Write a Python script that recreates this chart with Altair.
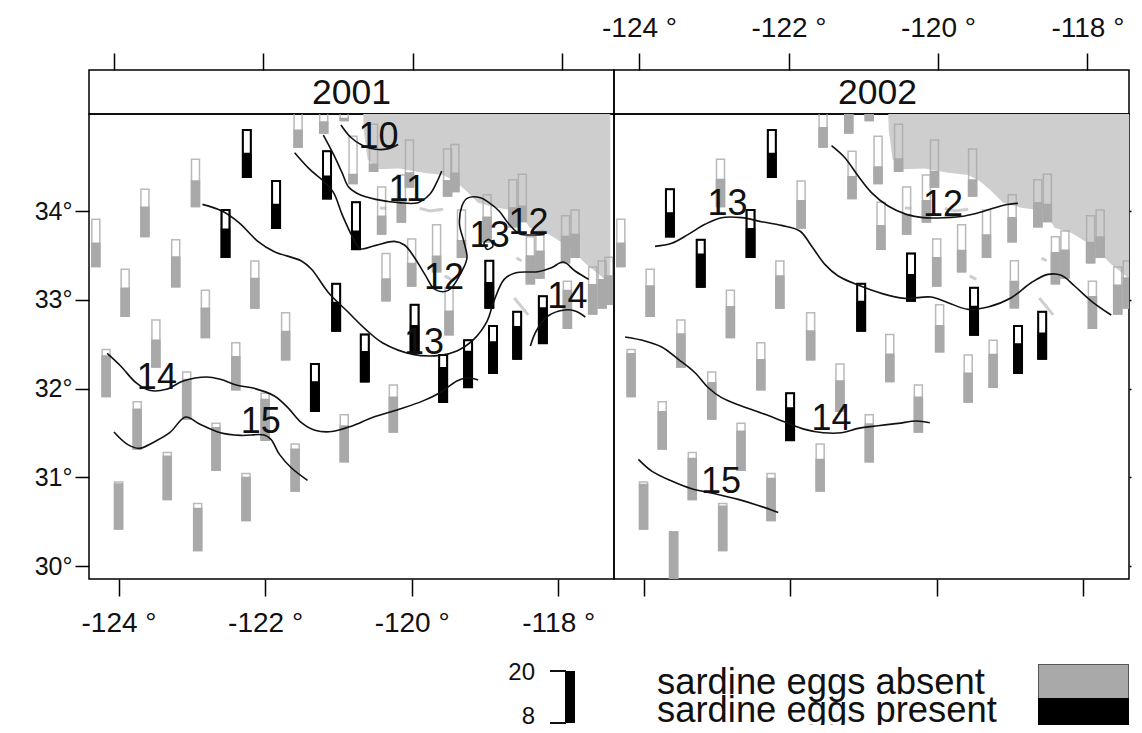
import altair as alt
import pandas as pd

# ---------- stations: longitude, latitude of bar top ----------
station_lon = [-124.31,-123.91,-123.64,-123.22,-122.95,-122.815,-122.54,-122.25,-122.14,-121.85,-121.72,-121.55,
               -121.20,-121.155,-121.03,-120.92,-120.80,-120.76,-120.52,-120.41,-120.35,-120.14,-120.03,-120.0,
               -119.96,-119.66,-119.51,-119.49,-119.41,-119.32,-119.23,-118.97,-118.94,-119.57,-118.89,-118.62,
               -118.56,-118.49,-118.38,-118.25,-118.21,-117.90,-117.875,-117.77,-117.53,-117.40,-117.31,
               -124.17,-123.49,-123.07,-122.40,-123.745,-122.0,-122.67,-123.335,-124.0,-122.26,-122.92,
               -121.59,-120.92,-120.25,-121.32,-120.64,-123.59]
station_top = [33.906,33.343,34.244,33.677,34.582,33.106,34.011,34.913,33.437,34.338,32.854,35.25,
               35.41,34.672,33.181,35.55,34.841,34.10,34.977,34.27,33.52,34.406,34.80,33.685,
               32.945,33.846,34.70,33.136,34.75,34.01,32.543,34.184,33.44,32.378,32.704,34.353,
               32.866,34.413,33.71,33.775,33.04,33.947,33.21,34.01,33.37,33.437,33.48,
               32.44,32.772,32.186,32.516,31.85,31.946,31.61,31.28,30.946,31.044,30.706,
               31.375,31.705,32.04,32.276,32.61,30.383]
# filled share of each bar per year (None = no station that year)
fill_2001 = [.49,.60,.62,.63,.54,.62,.59,.50,.63,.50,.60,.36,
             .23,.47,.60,.04,.19,.38,.15,.38,.46,.47,.30,.48,
             .55,.33,.32,.50,.39,.35,.76,.52,.53,.73,.66,.40,
             .68,.32,.59,.57,.75,.56,.80,.48,.62,.60,.60,
             .86,.57,.84,.70,.84,.87,.90,.92,.96,.91,.89,
             .89,.76,.74,.62,.63,None]
fill_2002 = [.49,.645,.50,.69,.57,.65,.60,.50,.68,.58,.61,.41,
             .45,.46,.62,.30,.35,.50,.26,.41,.55,.45,.33,.60,
             .55,.45,.34,.60,None,.47,.70,.51,.56,.61,.62,.51,
             .54,.36,.66,.59,None,.43,.67,.43,.61,.64,.60,
             .91,.70,.77,.64,.79,.69,.83,.87,.95,.89,.94,
             .67,.80,.74,.64,.58,1.0]
present_2001 = {6,7,9,13,14,17,24,30,32,33,34,36,40,61,62}
present_2002 = {2,3,6,7,14,20,27,34,36,52}
BAR_SPAN = 0.53

# ---------- coast ----------
coast_lon = [-120.66,-120.655,-120.62,-120.60,-120.458,-120.163,-119.845,-119.572,-119.413,-119.253,-119.096,
             -118.846,-118.528,-118.391,-118.164,-117.982,-117.80,-117.619,-117.392,-117.29]
coast_lat = [35.09,34.92,34.70,34.58,34.47,34.48,34.432,34.406,34.338,34.225,34.094,
             34.038,34.0,33.812,33.756,33.662,33.55,33.40,33.25,33.136]
islands = [([-120.435,-120.345],[34.035,34.03]),
           ([-119.89,-119.75,-119.572],[34.03,34.0,34.02]),
           ([-119.55,-119.46],[33.27,33.23]),
           ([-118.57,-118.50],[33.47,33.44]),
           ([-118.60,-118.41],[33.02,32.83])]

# ---------- contours ----------
contours_2001 = [
 ([-120.965,-120.836,-120.675,-120.49,-120.33,-120.185],[34.969,34.834,34.74,34.695,34.70,34.75]),
 ([-121.205,-121.066,-120.95,-120.86,-120.72,-120.49,-120.17,-119.914,-119.753,-119.66,-119.59],
  [34.856,34.638,34.432,34.27,34.188,34.131,34.094,34.094,34.188,34.319,34.451]),
 ([-121.597,-121.39,-121.205,-121.066,-120.95,-120.813,-120.70,-120.49,-120.236,-120.098,-119.96,-119.82,-119.683,
   -119.50,-119.314,-119.245,-119.29,-119.347,-119.314,-119.245,-119.06,-118.945,-118.807,-118.67,-118.53,-118.323,-118.185],
  [34.657,34.469,34.338,34.207,33.962,33.718,33.576,33.613,33.658,33.617,33.474,33.286,33.117,
   33.106,33.324,33.474,33.662,33.85,34.056,34.143,34.15,34.094,34.0,33.85,33.745,33.73,33.737]),
 ([-119.015,-118.945,-118.89,-118.97,-119.015],[33.643,33.68,33.606,33.568,33.643]),
 ([-122.855,-122.588,-122.357,-122.104,-121.873,-121.504,-121.366,-121.135,-120.882,-120.628,-120.4,-119.983,-119.614,
   -119.383,-119.153,-118.97,-118.885,-118.738,-118.577,-118.277,-118.092,-117.93,-117.77,-117.585],
  [34.075,34.0,33.869,33.662,33.542,33.437,33.343,33.08,32.873,32.667,32.516,32.385,32.374,
   32.423,32.554,32.76,32.967,33.23,33.305,33.316,33.361,33.425,33.324,33.23]),
 ([-118.38,-118.30,-118.14,-117.91,-117.77,-117.63],[32.479,32.648,32.817,32.885,32.873,32.806]),
 ([-124.155,-123.971,-123.763,-123.579,-123.349,-123.118,-122.795,-122.611,-122.38,-122.15,-121.873,-121.69,-121.504,
   -121.32,-121.09,-120.813,-120.536,-120.17,-119.845,-119.614,-119.383,-119.245,-119.093],
  [32.396,32.254,32.066,31.98,31.991,32.085,32.13,32.104,32.036,32.002,31.916,31.785,31.616,
   31.53,31.515,31.579,31.673,31.767,31.861,31.953,32.085,32.122,32.096]),
 ([-124.063,-123.879,-123.717,-123.533,-123.302,-123.086,-122.888,-122.611,-122.334,-122.012,-121.92,-121.804,-121.643,-121.421],
  [31.51,31.371,31.326,31.39,31.502,31.679,31.597,31.502,31.472,31.476,31.427,31.258,31.107,30.965]),
]
contours_2002 = [
 ([-121.435,-121.253,-121.072,-120.89,-120.663,-120.413,-120.186,-119.89,-119.618,-119.346,-119.073,-118.891],
  [34.736,34.60,34.394,34.207,34.056,33.962,33.925,33.925,33.944,34.0,34.068,34.086]),
 ([-123.843,-123.616,-123.389,-123.162,-122.935,-122.662,-122.39,-122.117,-121.867,-121.708,-121.526,-121.344,-121.072,
   -120.754,-120.436,-120.072,-119.845,-119.572,-119.30,-118.982,-118.71,-118.482,-118.30,-118.118,-117.891,-117.619],
  [33.602,33.636,33.737,33.85,33.925,33.925,33.88,33.838,33.775,33.606,33.399,33.268,33.166,
   33.072,33.016,33.031,32.967,32.892,32.918,33.023,33.192,33.286,33.275,33.155,32.986,32.828]),
 ([-124.252,-123.98,-123.752,-123.525,-123.298,-123.116,-122.935,-122.662,-122.344,-122.071,-121.80,-121.549,-121.30,
   -121.072,-120.80,-120.527,-120.277,-120.095],
  [32.58,32.535,32.468,32.329,32.178,32.009,31.897,31.803,31.709,31.623,31.54,31.502,31.502,
   31.551,31.581,31.607,31.634,31.615]),
 ([-124.07,-123.889,-123.616,-123.343,-123.025,-122.708,-122.435,-122.162],
  [31.202,31.07,30.958,30.871,30.815,30.751,30.683,30.604]),
]
labels_2001 = [("10",-120.453,34.834),("11",-120.06,34.237),("12",-119.56,33.249),("13",-118.936,33.718),
               ("12",-118.406,33.869),("14",-117.875,33.03),("13",-119.83,32.516),("14",-123.477,32.122),("15",-122.058,31.623)]
labels_2002 = [("13",-122.853,34.075),("12",-119.913,34.068),("14",-121.435,31.653),("15",-122.944,30.95)]

lon_ticks = [-124,-122,-120,-118]
lat_ticks = [30,31,32,33,34]
LAT_DOMAIN = [29.854,35.093]
FONT = "Liberation Sans"
GREY = "#a9a9a9"
LAND = "#cecece"

def stations(fill, present):
    rows = []
    for i,(lo,tp,f) in enumerate(zip(station_lon,station_top,fill)):
        if f is None:
            continue
        bot = tp-BAR_SPAN
        rows.append(dict(lon=lo,top=tp,bot=bot,split=bot+f*BAR_SPAN,status="present" if i in present else "absent"))
    return pd.DataFrame(rows)

def lines(items):
    rows=[]
    for k,(xs,ys) in enumerate(items):
        for s,(a,b) in enumerate(zip(xs,ys)):
            rows.append(dict(id=k,seq=s,lon=a,lat=b))
    return pd.DataFrame(rows)

status_scale = alt.Scale(domain=["absent","present"],range=[GREY,"#000000"])
FRAME = alt.ViewConfig(stroke="black",strokeWidth=1.5)

def panel(fill,present,contours,labels,lon_domain,width,x_axis,y_axis):
    xs = alt.X("lon:Q",scale=alt.Scale(domain=lon_domain,nice=False,zero=False),axis=x_axis)
    ys = alt.Y("lat:Q",scale=alt.Scale(domain=LAT_DOMAIN,nice=False,zero=False),axis=y_axis)
    st = stations(fill,present)
    land = alt.Chart(pd.DataFrame(dict(lon=coast_lon,lat=coast_lat,top=[LAT_DOMAIN[1]]*len(coast_lon)))).mark_area(
        color=LAND,clip=True,interpolate="linear").encode(x=xs,y=ys,y2="top:Q")
    isl = alt.Chart(lines(islands)).mark_line(color=LAND,strokeWidth=3,clip=True).encode(
        x=xs,y=ys,detail="id:N",order="seq:Q")
    yt = alt.Y("top:Q",scale=alt.Scale(domain=LAT_DOMAIN,nice=False,zero=False),axis=y_axis)
    ysp = alt.Y("split:Q",scale=alt.Scale(domain=LAT_DOMAIN,nice=False,zero=False),axis=y_axis)
    outline = alt.Chart(st).mark_bar(size=8,fillOpacity=0,strokeWidth=1.5,clip=True,opacity=0.8).encode(
        x=xs,y=yt,y2="bot:Q",stroke=alt.Stroke("status:N",scale=status_scale,legend=None))
    outline2 = alt.Chart(st[st.status=="present"]).mark_bar(size=8,fillOpacity=0,strokeWidth=2,stroke="black",clip=True).encode(
        x=xs,y=yt,y2="bot:Q")
    filled = alt.Chart(st).mark_bar(size=8,strokeWidth=1.5,clip=True).encode(
        x=xs,y=ysp,y2="bot:Q",
        fill=alt.Fill("status:N",scale=status_scale,legend=None),
        stroke=alt.Stroke("status:N",scale=status_scale,legend=None))
    cont = alt.Chart(lines(contours)).mark_line(color="#111111",strokeWidth=1.6,clip=True,interpolate="catmull-rom").encode(
        x=xs,y=ys,detail="id:N",order="seq:Q")
    lab = alt.Chart(pd.DataFrame(labels,columns=["txt","lon","lat"])).mark_text(
        font=FONT,fontSize=36,color="#111111",align="center",baseline="middle").encode(x=xs,y=ys,text="txt:N")
    return alt.layer(land,isl,outline,outline2,filled,cont,lab).properties(width=width,height=465,view=FRAME)

def strip(year,mid,lon_domain,width,axis):
    d = pd.DataFrame(dict(lon=[mid],txt=[year]))
    return alt.Chart(d).mark_text(font=FONT,fontSize=35.5,color="#111111",align="center",baseline="middle").encode(
        x=alt.X("lon:Q",scale=alt.Scale(domain=lon_domain,nice=False,zero=False),axis=axis),
        y=alt.value(23),text="txt:N").properties(width=width,height=44,view=FRAME)

lon_expr = "datum.value + ' °'"
lat_expr = "datum.value + '°'"
ax_common = dict(title=None,domain=False,grid=False,tickColor="black",tickWidth=1.5,values=lon_ticks,
                 labelFont=FONT,labelFontSize=28,labelColor="#111111",labelExpr=lon_expr,tickSize=17,
                 labelFlush=False,labelOverlap=False,labelBound=False)
ay_common = dict(title=None,domain=False,grid=False,tickColor="black",tickWidth=1.5,values=lat_ticks,
                 labelFont=FONT,labelFontSize=25,labelColor="#111111",labelExpr=lat_expr,labelOverlap=False,labelBound=False)

top_none = alt.Axis(orient="top",labels=False,minExtent=61,maxExtent=61,labelPadding=11,**ax_common)
top_lab = alt.Axis(orient="top",minExtent=61,maxExtent=61,labelPadding=11,**ax_common)
bot_lab = alt.Axis(orient="bottom",minExtent=60,maxExtent=60,labelPadding=13,**ax_common)
bot_none = alt.Axis(orient="bottom",labels=False,minExtent=60,maxExtent=60,labelPadding=13,**ax_common)
left_lab = alt.Axis(orient="left",tickSize=14,labelPadding=3,minExtent=80,maxExtent=80,**ay_common)
right_tk = alt.Axis(orient="right",labels=False,tickSize=2,minExtent=2,maxExtent=2,**ay_common)

W1, W2 = 525, 515
D1 = [-124.335,-117.307]
D2 = [-124.335,-117.444]
MID2 = -120.81

# ---------- key ----------
key_data = alt.Data(values=[{"k":1}])
KY = 578
def key_rect(kx,x1,x2,y1,y2,color):
    return alt.Chart(key_data).mark_rect(color=color,clip=True).encode(
        x=alt.value(x1-kx),x2=alt.value(x2-kx),y=alt.value(y1-KY),y2=alt.value(y2-KY))
def key_text(kx,txt,x,y,size,align):
    return alt.Chart(key_data).mark_text(text=txt,font=FONT,fontSize=size,color="#111111",align=align,baseline="alphabetic",clip=True).encode(
        x=alt.value(x-kx),y=alt.value(y-KY))
NOFRAME = alt.ViewConfig(stroke=None)
KEY_H = 146
key_left = alt.layer(
    key_rect(89,565,575,670,722,"#000000"),
    key_rect(89,550,566,669,671,"#111111"),
    key_rect(89,550,566,721,723,"#111111"),
    key_text(89,"20",535,679,24,"right"),
    key_text(89,"8",535,723,24,"right"),
).properties(width=W1,height=KEY_H,view=NOFRAME)
key_right = alt.layer(
    key_text(614,"sardine eggs absent",657,693,36.4,"left"),
    key_text(614,"sardine eggs present",657,721,36.4,"left"),
    key_rect(614,1038,1129,663,698,"#555555"),
    key_rect(614,1039,1128,664,697,GREY),
    key_rect(614,1038,1129,697,724,"#000000"),
).properties(width=W2,height=KEY_H,view=NOFRAME)

chart = alt.concat(
    strip("2001",-120.82,D1,W1,top_none),
    strip("2002",MID2,D2,W2,top_lab),
    panel(fill_2001,present_2001,contours_2001,labels_2001,D1,W1,bot_lab,left_lab),
    panel(fill_2002,present_2002,contours_2002,labels_2002,D2,W2,bot_none,right_tk),
    key_left,
    key_right,
    columns=2,spacing=0,bounds="flush",align="each",
).properties(padding=0,background="white")

chart.save("out.html", embed_options={"renderer": "svg", "actions": False})
